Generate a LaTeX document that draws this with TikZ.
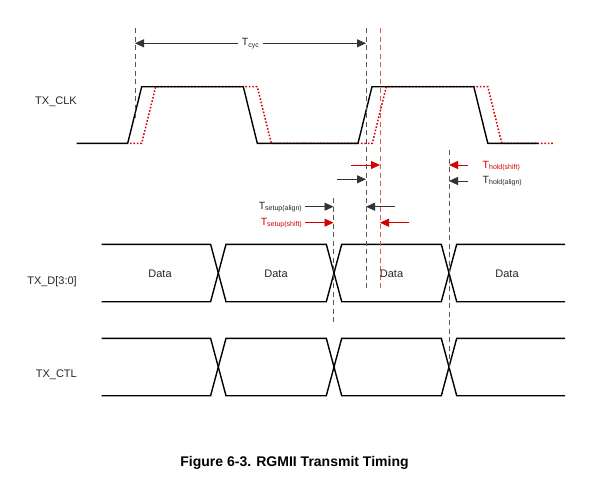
\documentclass[tikz,border=0pt]{standalone}
\usepackage{fontspec}
\setmainfont{Liberation Sans}
\usepackage{xcolor}
\usetikzlibrary{arrows.meta, positioning, calc}
\definecolor{shiftred}{RGB}{210,0,0}
\definecolor{guidegray}{RGB}{85,85,85}
\definecolor{guidered}{RGB}{225,90,90}
\newcommand{\tname}[1]{T\raisebox{-0.3ex}{\fontsize{7}{8}\selectfont #1}}
\tikzset{
x=1pt, y=-1pt,
>={Triangle[length=9pt,width=8pt]},
wave/.style={line width=1.4pt, black, line join=miter},
shiftwave/.style={line width=1.5pt, shiftred, dash pattern=on 1.6pt off 1.8pt},
guide/.style={guidegray, line width=1pt, dash pattern=on 5pt off 3.5pt},
shiftguide/.style={guide, draw=guidered},
meas/.style={->, line width=0.8pt, black!80},
shiftmeas/.style={meas, draw=shiftred, fill=shiftred},
sig/.style={anchor=base east, inner sep=0pt, font=\fontsize{11}{13}\selectfont, text=black!85},
datalabel/.style={anchor=base, inner sep=0pt, font=\fontsize{11}{13}\selectfont, text=black!85},
tlabel/.style={inner sep=0pt, font=\fontsize{10.5}{12}\selectfont, text=black!85},
shiftlabel/.style={tlabel, text=shiftred},
}

\begin{document}
\begin{tikzpicture}
\useasboundingbox (0,0) rectangle (612,480);

% reference edges
\coordinate (g1t) at (135,28);
\coordinate (g1b) at (135,118);
\coordinate (g2t) at (366,28);
\coordinate (g2b) at (366,288);
\coordinate (g3t) at (380,28);
\coordinate (g3b) at (380,288);
\coordinate (gst) at (333.5,198);
\coordinate (gsb) at (333.5,322);
\coordinate (ght) at (449,150);
\coordinate (ghb) at (449,368);

% TX_CLK, shifted then aligned
\draw[shiftwave] (130,143.3) -- (141.7,143.3) -- (155.7,86.7) -- (257.3,86.7) -- (271.3,143.3)
  -- (372.3,143.3) -- (386.3,86.7) -- (487.8,86.7) -- (501.8,143.3) -- (553,143.3);
\draw[wave] (76.7,143.3) -- (127.7,143.3) -- (141.7,86.7) -- (243.3,86.7) -- (257.3,143.3)
  -- (358,143.3) -- (372,86.7) -- (473.8,86.7) -- (487.8,143.3) -- (538.3,143.3);

% TX_D[3:0] and TX_CTL
\foreach \yh/\yl in {244.3/301.7, 338.3/395.7} {
  \draw[wave] (101.7,\yh) -- (210.6,\yh) -- (226,\yl) -- (326.3,\yl) -- (341.7,\yh)
    -- (441.3,\yh) -- (456.7,\yl) -- (565,\yl);
  \draw[wave] (101.7,\yl) -- (210.6,\yl) -- (226,\yh) -- (326.3,\yh) -- (341.7,\yl)
    -- (441.3,\yl) -- (456.7,\yh) -- (565,\yh);
}

\draw[guide] (g1t) -- (g1b);
\draw[guide] (g2t) -- (g2b);
\draw[shiftguide] (g3t) -- (g3b);
\draw[guide] (gst) -- (gsb);
\draw[guide] (ght) -- (ghb);

\node[sig] (clk) at (77,104) {TX\_CLK};
\node[sig] (txd) at (77,284.5) {TX\_D[3:0]};
\node[sig] (ctl) at (77,377.7) {TX\_CTL};
\foreach \x [count=\i] in {160,276,391.5,507}
  \node[datalabel] (d\i) at (\x,277) {Data};

% Tcyc
\coordinate (cycl) at (135,43.3);
\coordinate (cycr) at (366,43.3);
\draw[meas, <->] (cycl) -- (cycr);
\node[tlabel, fill=white, inner sep=4pt] (tcyc) at (250.3,43.3) {\tname{cyc}};

% clock to data skew
\coordinate (ca) at (337,179.3);
\coordinate (cs) at (351,165);
\draw[meas] (ca) -- (ca -| g2t);
\draw[shiftmeas] (cs) -- (cs -| g3t);

% hold
\coordinate (hs) at (467.7,165);
\coordinate (ha) at (467.7,181);
\draw[shiftmeas] (hs) -- (hs -| ght);
\draw[meas] (ha) -- (ha -| ght);
\node[shiftlabel, anchor=base west] (ths) at (482.5,168) {\tname{hold(shift)}};
\node[tlabel, anchor=base west] (tha) at (482.5,183.3) {\tname{hold(align)}};

% setup
\coordinate (sa) at (305,206.7);
\coordinate (ss) at (305,222.7);
\coordinate (sar) at (395,206.7);
\coordinate (ssr) at (409,222.7);
\draw[meas] (sa) -- (sa -| gst);
\draw[shiftmeas] (ss) -- (ss -| gst);
\draw[meas] (sar) -- (sar -| g2t);
\draw[shiftmeas] (ssr) -- (ssr -| g3t);
\node[tlabel, anchor=base east] (tsa) at (302,209.3) {\tname{setup(align)}};
\node[shiftlabel, anchor=base east] (tss) at (302,225) {\tname{setup(shift)}};

\node[anchor=base, inner sep=0pt, font=\fontsize{14}{16}\selectfont\bfseries] (caption)
  at (294.5,466) {Figure 6-3. RGMII Transmit Timing};
\end{tikzpicture}
\end{document}
